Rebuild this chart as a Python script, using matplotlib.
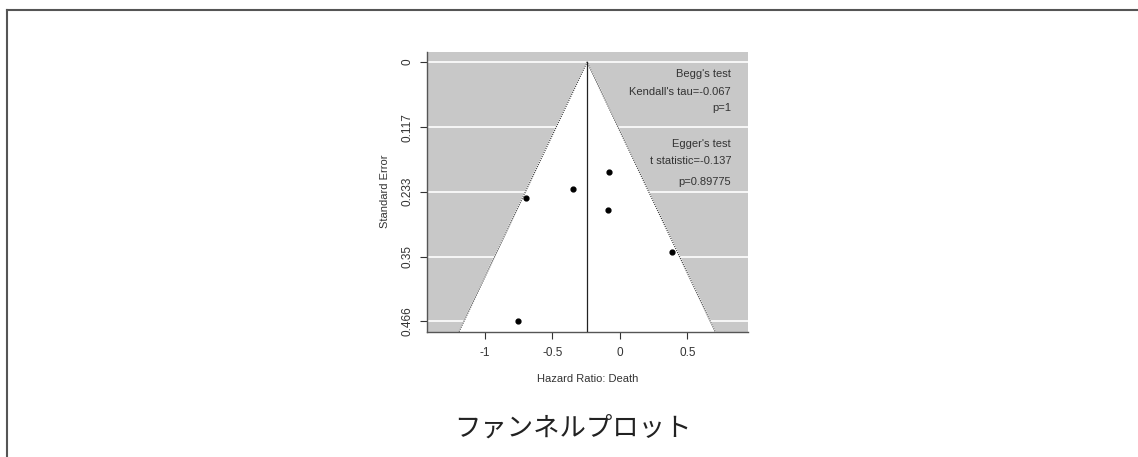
import numpy as np
import matplotlib
matplotlib.use('agg')
import matplotlib.pyplot as plt
from matplotlib.lines import Line2D

plt.rcParams['font.family'] = ['Liberation Sans', 'Noto Sans CJK JP', 'DejaVu Sans']

# study estimates (log hazard ratio) and standard errors
est = [-0.696, -0.347, -0.079, -0.089, 0.388, -0.755]
se = [0.245, 0.229, 0.197, 0.265, 0.342, 0.466]
pooled = -0.243
yticks = [0, 0.117, 0.233, 0.35, 0.466]
ytick_labels = ['0', '0.117', '0.233', '0.35', '0.466']
xticks = [-1, -0.5, 0, 0.5]
xtick_labels = ['-1', '-0.5', '0', '0.5']
stats_text = ["Begg's test", "Kendall's tau=-0.067", "p=1",
              "Egger's test", "t statistic=-0.137", "p=0.89775"]
title = 'ファンネルプロット'

W, H = 1138, 457
fig = plt.figure(figsize=(W / 100, H / 100), dpi=100)

# outer frame (top and left only)
fig.add_artist(Line2D([7 / W, 7 / W], [0, 1 - 9.5 / H], transform=fig.transFigure,
                      color='#555555', lw=1.5))
fig.add_artist(Line2D([7 / W, 1], [1 - 9.5 / H, 1 - 9.5 / H], transform=fig.transFigure,
                      color='#555555', lw=1.5))

ax = fig.add_axes([427.3 / W, (H - 331.7) / H, 320.4 / W, 280 / H])
ymax = max(yticks)
ylim = (ymax * 1.04, -ymax * 0.04)
xlim = (-1.428, 0.948)
ax.set_xlim(xlim)
ax.set_ylim(ylim)

ax.set_facecolor('#c8c8c8')
for y in yticks:
    ax.axhline(y, color='white', lw=1.2, zorder=1)

# funnel region
yb = ylim[0]
funnel_x = [pooled - 1.96 * yb, pooled, pooled + 1.96 * yb]
funnel_y = [yb, 0, yb]
ax.fill(funnel_x, funnel_y, color='white', zorder=2)
ax.plot(funnel_x, funnel_y, color='#333333', lw=0.8, ls=(0, (1, 1)), zorder=3)
ax.plot([pooled, pooled], [yb, 0], color='#222222', lw=0.9, zorder=3)

ax.scatter(est, se, s=12, color='black', zorder=4)

ax.set_xticks(xticks)
ax.set_xticklabels(xtick_labels)
ax.set_yticks(yticks)
ax.set_yticklabels(ytick_labels, rotation=90, va='center')
ax.tick_params(axis='both', labelsize=8.5, colors='#333333', length=5, width=0.8)
ax.tick_params(axis='y', pad=5)
ax.tick_params(axis='x', pad=6)
for s in ['top', 'right']:
    ax.spines[s].set_visible(False)
for s in ['left', 'bottom']:
    ax.spines[s].set_color('#555555')
    ax.spines[s].set_linewidth(1.0)

ax.set_xlabel('Hazard Ratio: Death', fontsize=8, color='#333333', labelpad=11)
ax.set_ylabel('Standard Error', fontsize=8, color='#333333', labelpad=8)

# test results text
ty = [74.3, 91.7, 108.3, 144.3, 160.7, 182.3]
for t, yp in zip(stats_text, ty):
    fig.text(731 / W, 1 - yp / H, t, ha='right', va='center', fontsize=8, color='#333333')

fig.text(573 / W, 1 - 428 / H, title, ha='center', va='center', fontsize=19,
         color='#222222', family=['Noto Sans CJK JP', 'DejaVu Sans'])

fig.savefig('out.png', dpi=100)
